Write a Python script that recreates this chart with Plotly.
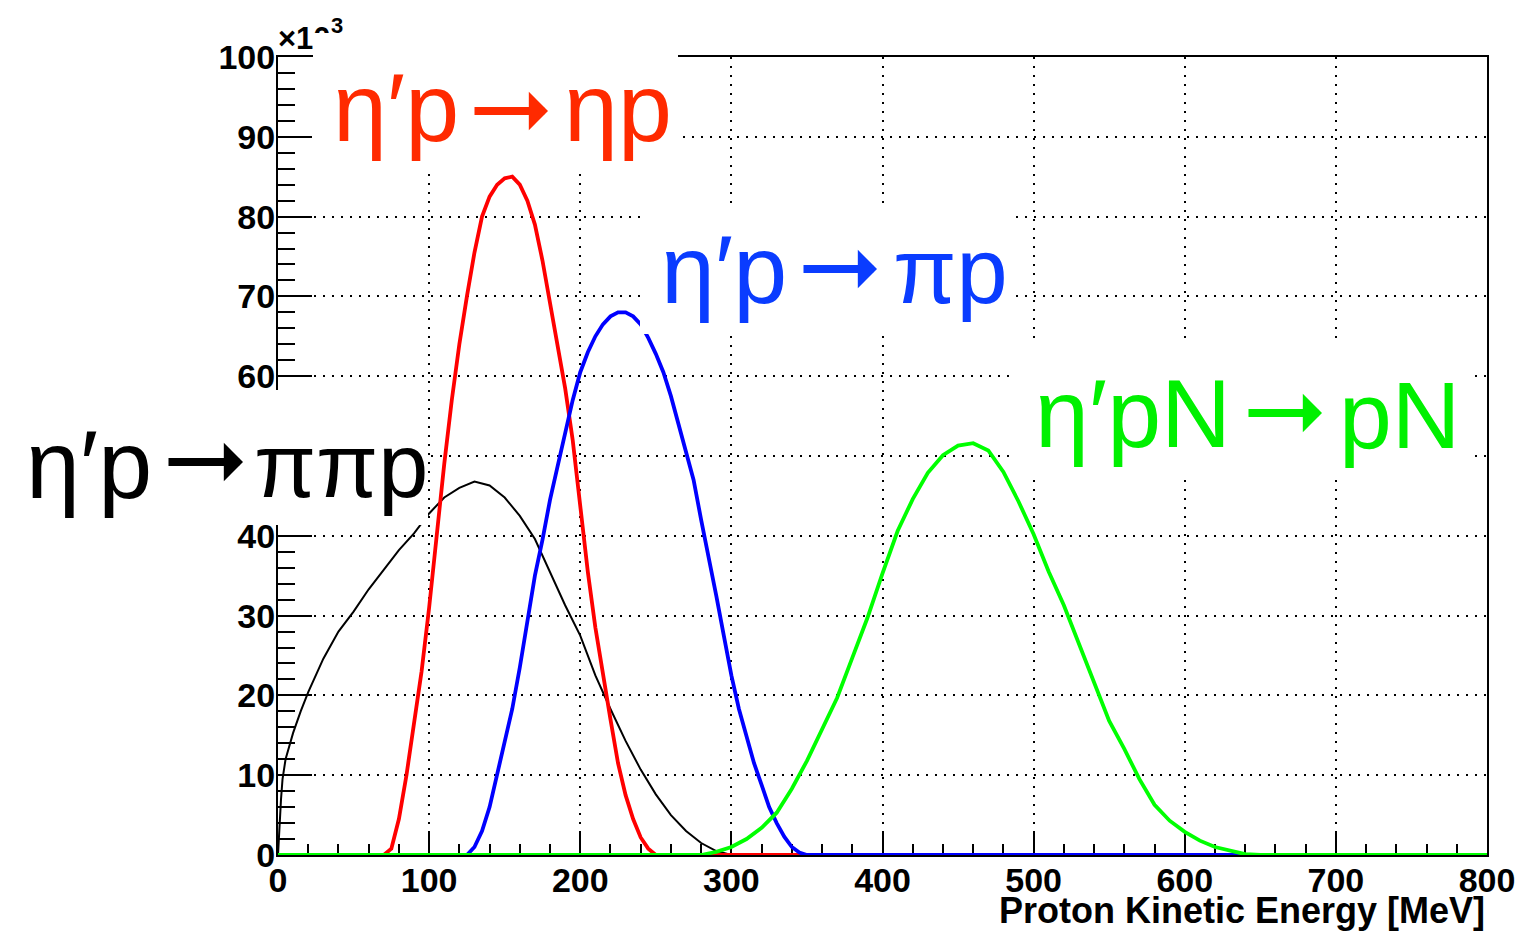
import plotly.graph_objects as go

# ---------------- data ----------------
# eta'p -> pi pi p  (black)
x_pipip = [0, 1, 2, 3, 5, 10, 15, 20, 25, 30, 40, 50, 60, 70, 80, 90, 100, 110, 120, 130,
           140, 150, 160, 170, 180, 190, 200, 210, 220, 230, 240, 250, 260, 270, 280, 290, 300, 800]
y_pipip = [0, 4, 7, 9.5, 12, 15.3, 18, 20.4, 22.5, 24.6, 28, 30.5, 33.3, 35.8, 38.2, 40.3, 42.8, 44.8, 46, 46.8,
           46.3, 44.8, 42.5, 39.6, 35.5, 31.3, 27.5, 22.5, 18.3, 14.3, 10.7, 7.6, 5, 3, 1.5, 0.5, 0, 0]

# eta'p -> eta p  (red)
x_etap = [0, 70, 75, 80, 85, 90, 95, 100, 105, 110, 115, 120, 125, 130, 135, 140, 145, 150, 155, 160,
          165, 170, 175, 180, 185, 190, 195, 200, 205, 210, 215, 220, 225, 230, 235, 240, 245, 250, 800]
y_etap = [0, 0, 0.8, 4.5, 10, 16.3, 23, 31, 40.5, 49, 57, 64, 70, 75.5, 80, 82.5, 84, 84.8, 85, 84,
          82, 79, 74.5, 69, 64, 58.5, 52, 43.5, 35.5, 28.5, 22.5, 17, 11.5, 7.5, 4.5, 2.2, 0.8, 0, 0]

# eta'p -> pi p  (blue)
x_pip = [0, 125, 130, 135, 140, 145, 150, 155, 160, 165, 170, 175, 180, 185, 190, 195, 200, 205, 210, 215,
         220, 225, 230, 235, 240, 245, 250, 255, 260, 265, 270, 275, 280, 285, 290, 295, 300, 305, 310, 315,
         320, 325, 330, 335, 340, 345, 350, 800]
y_pip = [0, 0, 1, 3, 6, 10, 14, 18.3, 23.5, 29.3, 35, 39.5, 44.5, 48.7, 52.8, 57, 60.5, 63, 65, 66.5,
         67.5, 68, 68, 67.5, 66.5, 64.8, 62.8, 60.5, 57.5, 54, 50.5, 47, 42, 37.5, 32.5, 27.5, 22.5, 18.3, 14.8, 11.5,
         8.8, 6, 4, 2.3, 1, 0.3, 0, 0]

# eta'pN -> pN  (green)
x_pN = [0, 280, 290, 300, 310, 320, 330, 340, 350, 360, 370, 380, 390, 400, 410, 420, 430, 440, 450, 460,
        470, 480, 490, 500, 510, 520, 530, 540, 550, 560, 570, 580, 590, 600, 610, 620, 630, 640, 650, 800]
y_pN = [0, 0, 0.4, 1, 2, 3.4, 5.3, 8.3, 11.8, 15.7, 19.7, 24.7, 29.7, 35.3, 40.6, 44.6, 47.9, 50.1, 51.3, 51.6,
        50.7, 48, 44.3, 40.2, 35.5, 31.3, 26.5, 21.5, 16.8, 13.3, 9.5, 6.3, 4.3, 2.9, 1.8, 1, 0.5, 0.1, 0, 0]

series_names = ["η′p→ππp", "η′p→ηp", "η′p→πp", "η′pN→pN"]
label_left = ["η′p", "η′p", "η′p", "η′pN"]
label_right = ["ππp", "ηp", "πp", "pN"]

x_tickvals = [0, 100, 200, 300, 400, 500, 600, 700, 800]
y_tickvals = [0, 10, 20, 30, 40, 50, 60, 70, 80, 90, 100]
x_title = "Proton Kinetic Energy [MeV]"

# ---------------- layout geometry ----------------
W, H = 1523, 935
L, R, T, B = 278, 1487, 57, 855


def px_x(px):
    return (px - L) / (R - L)


def px_y(py):
    return (B - py) / (B - T)


fig = go.Figure()
fig.add_trace(go.Scatter(x=x_pipip, y=y_pipip, mode="lines", name=series_names[0],
                         line=dict(color="black", width=2)))
fig.add_trace(go.Scatter(x=x_etap, y=y_etap, mode="lines", name=series_names[1],
                         line=dict(color="#ff0000", width=3.8)))
fig.add_trace(go.Scatter(x=x_pip, y=y_pip, mode="lines", name=series_names[2],
                         line=dict(color="#0000ff", width=3.8)))
fig.add_trace(go.Scatter(x=x_pN, y=y_pN, mode="lines", name=series_names[3],
                         line=dict(color="#00ff00", width=3.8)))

tickfont = dict(family="Liberation Sans", size=34, color="black", weight="bold")

fig.update_xaxes(
    range=[0, 800], tickvals=x_tickvals, ticks="inside", ticklen=22, tickwidth=2, tickcolor="black",
    minor=dict(ticks="inside", ticklen=11, dtick=20, tickwidth=2, tickcolor="black", showgrid=False),
    showline=True, linecolor="black", linewidth=2, mirror=True,
    showgrid=True, gridcolor="black", gridwidth=1.5, griddash="2px,7px",
    tickfont=tickfont, ticklabelstandoff=-6, zeroline=False, layer="below traces", automargin=False,
)
fig.update_yaxes(
    range=[0, 100], tickvals=y_tickvals, ticks="inside", ticklen=34, tickwidth=2, tickcolor="black",
    minor=dict(ticks="inside", ticklen=17, dtick=2, tickwidth=2, tickcolor="black", showgrid=False),
    showline=True, linecolor="black", linewidth=2, mirror=True,
    showgrid=True, gridcolor="black", gridwidth=1.5, griddash="2px,7px",
    tickfont=tickfont, ticklabelstandoff=-6, zeroline=False, layer="below traces", automargin=False,
)

annotations = []
# x10^3 multiplier (partly hidden by the red label box, as in the reference)
annotations.append(dict(
    xref="paper", yref="paper", x=px_x(276), y=px_y(58), xanchor="left", yanchor="bottom",
    text="×10", showarrow=False,
    font=dict(family="Liberation Sans", size=31, color="black", weight="bold"),
))
annotations.append(dict(
    xref="paper", yref="paper", x=px_x(329), y=px_y(40), xanchor="left", yanchor="bottom",
    text="3", showarrow=False,
    font=dict(family="Liberation Sans", size=22, color="black", weight="bold"),
))

label_font = "Liberation Sans"
label_size = 97
right_sizes = [90, 97, 92, 95]
# box (l, t, r, b), left text right edge, arrow start, arrow tip, right text left edge, baseline, arrow y, colour
labels = [
    ((0, 390, 428, 525), 153, 167, 243, 253, 495, 462, "black"),
    ((313, 33, 678, 170), 460, 473, 548, 563, 138, 111, "#ff2a00"),
    ((640, 206, 1010, 334), 788, 802, 877, 892, 300, 269, "#0a3cff"),
    ((1016, 345, 1468, 478), 1232, 1247, 1322, 1338, 445, 413, "#00f000"),
]
for (box, lt_r, a0, a1, rt_l, base, ay, col), lt, rt, rs in zip(labels, label_left, label_right, right_sizes):
    l, t, r, b = box
    # white box hiding the frame behind the label
    annotations.append(dict(
        xref="paper", yref="paper", x=px_x(l), y=px_y(t), xanchor="left", yanchor="top",
        width=r - l, height=b - t, bgcolor="white", borderpad=0, borderwidth=0,
        text=" ", showarrow=False,
    ))
    cy = base - 31
    annotations.append(dict(
        xref="paper", yref="paper", x=px_x(lt_r), y=px_y(cy), xanchor="right", yanchor="middle",
        text=lt, showarrow=False, font=dict(family=label_font, size=label_size, color=col), borderpad=0,
    ))
    cy2 = base - 31 * rs / label_size
    annotations.append(dict(
        xref="paper", yref="paper", x=px_x(rt_l), y=px_y(cy2), xanchor="left", yanchor="middle",
        text=rt, showarrow=False, font=dict(family=label_font, size=rs, color=col), borderpad=0,
    ))
    annotations.append(dict(
        xref="paper", yref="paper", x=px_x(a1), y=px_y(ay), text="",
        showarrow=True, arrowhead=1, arrowwidth=8, arrowsize=0.8, arrowcolor=col,
        ax=a0 - a1, ay=0, axref="pixel", ayref="pixel", standoff=0, startstandoff=0,
    ))

annotations.append(dict(
    xref="paper", yref="paper", x=1.0, y=px_y(933), xanchor="right", yanchor="bottom",
    text=x_title, showarrow=False,
    font=dict(family="Liberation Sans", size=36, color="black", weight="bold"),
))

fig.update_layout(
    width=W, height=H,
    margin=dict(l=L, r=W - R, t=T, b=H - B, pad=0, autoexpand=False),
    paper_bgcolor="white", plot_bgcolor="white",
    showlegend=False,
    annotations=annotations,
)

fig.write_html("out.html", config={"displayModeBar": False},
               post_script="document.body.style.margin='0';document.body.style.overflow='hidden';")
